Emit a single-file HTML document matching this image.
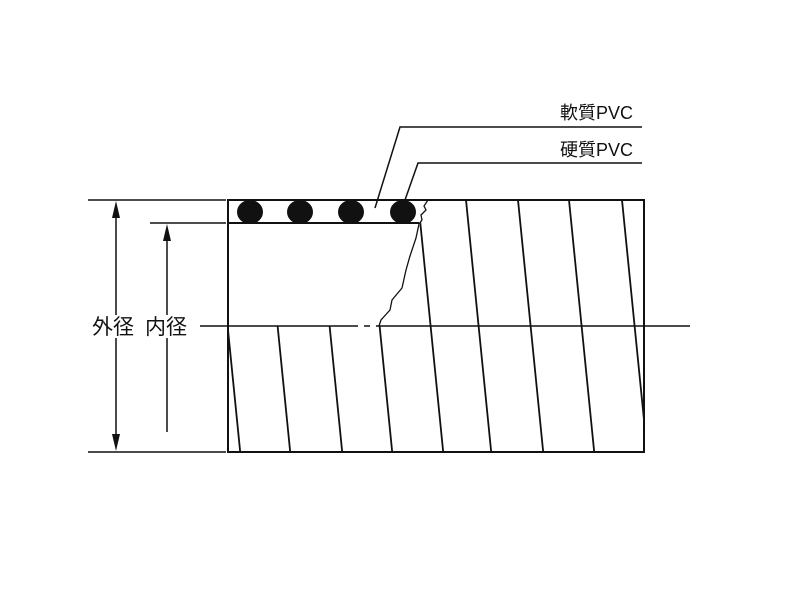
<!DOCTYPE html>
<html><head><meta charset="utf-8"><style>body{margin:0;background:#fff}svg{display:block}</style></head><body>
<svg width="800" height="600" viewBox="0 0 800 600" xmlns="http://www.w3.org/2000/svg">
<defs>
<clipPath id="low"><rect x="228" y="326" width="416" height="126"/></clipPath>
<clipPath id="up"><polygon points="428,200 644,200 644,452 378,452 379,326 390,310 400,290 410,260 416,238 420,224"/></clipPath>
</defs>
<g stroke="#111" fill="none" stroke-width="1.5">
<line x1="88" y1="200" x2="226" y2="200"/>
<line x1="88" y1="452" x2="226" y2="452"/>
<line x1="150" y1="223" x2="226" y2="223"/>
<line x1="116" y1="210" x2="116" y2="315"/>
<line x1="116" y1="338" x2="116" y2="442"/>
<line x1="167" y1="233" x2="167" y2="315"/>
<line x1="167" y1="338" x2="167" y2="432"/>
<rect x="228" y="200" width="416" height="252" stroke-width="2"/>
<line x1="228" y1="223" x2="419" y2="223" stroke-width="2"/>
<line x1="200" y1="326" x2="358" y2="326"/>
<line x1="364" y1="326" x2="370" y2="326"/>
<line x1="376" y1="326" x2="690" y2="326"/>
<polyline points="428,200 424,206 426,210 421,215 422,220 419,224 416,238 410,256 406,270 402,288 392,300 390,310 381,320 379,326" stroke-width="1.3"/>
<g clip-path="url(#up)" stroke-width="1.8">
<line x1="418" y1="200" x2="443.2" y2="452"/>
<line x1="466" y1="200" x2="491.2" y2="452"/>
<line x1="518" y1="200" x2="543.2" y2="452"/>
<line x1="569" y1="200" x2="594.2" y2="452"/>
<line x1="622" y1="200" x2="647.2" y2="452"/>
</g>
<g clip-path="url(#low)" stroke-width="1.8">
<line x1="215" y1="200" x2="240.2" y2="452"/>
<line x1="265" y1="200" x2="290.2" y2="452"/>
<line x1="317" y1="200" x2="342.2" y2="452"/>
<line x1="367" y1="200" x2="392.2" y2="452"/>
</g>
<polyline points="375,208 400,127 642,127"/>
<polyline points="405,200 418,163 642,163"/>
</g>
<g fill="#111">
<polygon points="116,201 112,218 120,218"/>
<polygon points="116,451 112,434 120,434"/>
<polygon points="167,224 163,241 171,241"/>
<ellipse cx="250" cy="212" rx="13" ry="12"/>
<ellipse cx="300" cy="212" rx="13" ry="12"/>
<ellipse cx="351" cy="212" rx="13" ry="12"/>
<ellipse cx="403" cy="212" rx="13" ry="12"/>
</g>
<g font-family="'Liberation Sans','Noto Sans CJK JP',sans-serif" fill="#111">
<text x="633" y="119" text-anchor="end" font-size="18">軟質PVC</text>
<text x="633" y="156" text-anchor="end" font-size="18">硬質PVC</text>
<text x="92" y="334" font-size="21">外径</text>
<text x="145" y="334" font-size="21">内径</text>
</g>
</svg>
</body></html>
